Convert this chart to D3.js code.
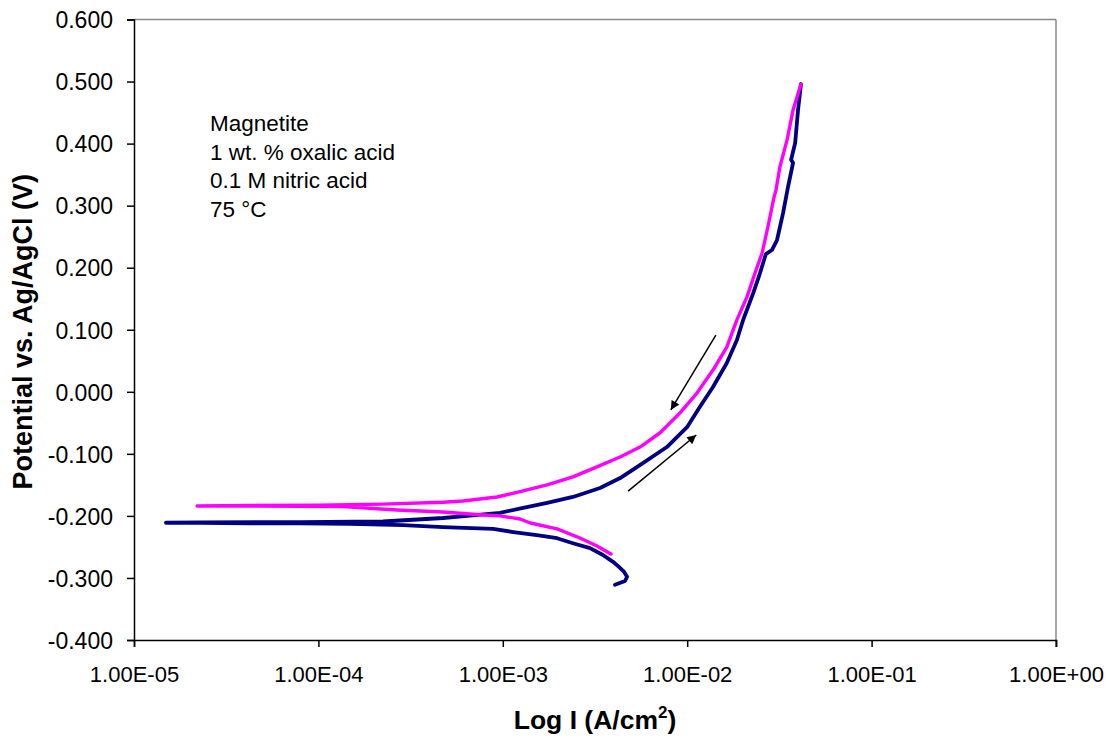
<!DOCTYPE html>
<html>
<head>
<meta charset="utf-8">
<script src="https://cdn.jsdelivr.net/npm/d3@7"></script>
<style>
  html, body { margin: 0; padding: 0; background: #fff; }
  svg { display: block; font-family: "Liberation Sans", Arial, sans-serif; }
</style>
</head>
<body>
<svg id="chart" width="1113" height="738"></svg>
<script>
// ---- Data (current density in A/cm^2, potential in V vs Ag/AgCl) ----
// Forward scan (navy): from cathodic end to corrosion potential, then anodic branch
const forwardCurrent = [
  4.06e-3, 4.60e-3, 4.72e-3, 4.54e-3, 4.22e-3, 3.96e-3, 3.49e-3, 2.97e-3, 2.40e-3, 1.97e-3,
  1.53e-3, 1.14e-3, 8.85e-4, 4.74e-4, 2.88e-4, 1.48e-4, 7.94e-5, 4.26e-5, 2.28e-5, 1.49e-5,
  2.28e-5, 7.94e-5, 2.24e-4, 4.74e-4, 6.40e-4, 9.66e-4, 1.29e-3, 1.74e-3, 2.40e-3, 3.37e-3,
  4.33e-3, 5.75e-3, 7.76e-3, 9.98e-3, 1.17e-2, 1.38e-2, 1.64e-2, 1.86e-2, 2.01e-2, 2.28e-2,
  2.48e-2, 2.67e-2, 2.88e-2, 3.07e-2, 3.31e-2, 3.52e-2, 3.75e-2, 3.66e-2, 3.85e-2, 3.99e-2,
  4.14e-2
];
const forwardPotential = [
  -0.311, -0.305, -0.298, -0.290, -0.281, -0.274, -0.263, -0.252, -0.244, -0.236,
  -0.231, -0.226, -0.221, -0.218, -0.215, -0.213, -0.212, -0.212, -0.211, -0.211,
  -0.2105, -0.210, -0.209, -0.2034, -0.200, -0.195, -0.187, -0.179, -0.1695, -0.155,
  -0.139, -0.115, -0.089, -0.057, -0.0245, 0.0077, 0.0464, 0.0835, 0.1157, 0.159,
  0.191, 0.222, 0.2285, 0.2446, 0.288, 0.330, 0.369, 0.374, 0.401, 0.454,
  0.496
];
// Reverse scan (magenta): from anodic vertex back down
const reverseCurrent = [
  4.14e-2, 3.75e-2, 3.48e-2, 3.18e-2, 3.03e-2, 2.96e-2, 2.74e-2, 2.55e-2, 2.33e-2, 2.11e-2,
  1.86e-2, 1.64e-2, 1.38e-2, 1.13e-2, 9.14e-3, 7.13e-3, 5.55e-3, 4.33e-3, 3.24e-3, 2.40e-3,
  1.74e-3, 1.24e-3, 9.31e-4, 6.08e-4, 4.74e-4, 2.24e-4, 9.82e-5, 4.26e-5, 2.20e-5,
  4.26e-5, 1.36e-4, 2.67e-4, 4.74e-4, 7.82e-4, 9.66e-4, 1.24e-3, 1.41e-3, 1.97e-3, 2.62e-3,
  3.24e-3, 3.86e-3
];
const reversePotential = [
  0.496, 0.454, 0.406, 0.362, 0.325, 0.314, 0.266, 0.224, 0.191, 0.153,
  0.116, 0.072, 0.035, -0.002, -0.034, -0.066, -0.089, -0.105, -0.121, -0.137,
  -0.150, -0.161, -0.1695, -0.176, -0.178, -0.181, -0.1827, -0.183, -0.184,
  -0.184, -0.185, -0.1905, -0.1937, -0.1985, -0.200, -0.205, -0.2114, -0.221, -0.2356,
  -0.2485, -0.2614
];
// Scan-direction arrows: [fromCurrent, fromPotential, toCurrent, toPotential]
const arrowDown = [1.43e-2, 0.0915, 8.15e-3, -0.0293];
const arrowUp = [4.78e-3, -0.160, 1.12e-2, -0.0696];

const xTickValues = [1e-5, 1e-4, 1e-3, 1e-2, 1e-1, 1e0];
const xTickLabels = ["1.00E-05", "1.00E-04", "1.00E-03", "1.00E-02", "1.00E-01", "1.00E+00"];
const yTickValues = [-0.4, -0.3, -0.2, -0.1, 0.0, 0.1, 0.2, 0.3, 0.4, 0.5, 0.6];
const annotationLines = ["Magnetite", "1 wt. % oxalic acid", "0.1 M nitric acid", "75 \u00B0C"];

// ---- Layout ----
const W = 1113, H = 738;
const plot = { left: 134, top: 19.5, right: 1056, bottom: 640 };
const FONT = "Liberation Sans, Arial, sans-serif";

const svg = d3.select("#chart");
svg.append("rect").attr("width", W).attr("height", H).attr("fill", "#fff");

const x = d3.scaleLog().domain([1e-5, 1]).range([plot.left, plot.right]);
const y = d3.scaleLinear().domain([-0.4, 0.6]).range([plot.bottom, plot.top]);

// Plot frame: gray top and right
svg.append("line").attr("x1", plot.left).attr("x2", plot.right)
  .attr("y1", plot.top).attr("y2", plot.top).attr("stroke", "#888").attr("stroke-width", 1.5);
svg.append("line").attr("x1", plot.right).attr("x2", plot.right)
  .attr("y1", plot.top).attr("y2", plot.bottom + 7).attr("stroke", "#888").attr("stroke-width", 1.5);

// Axes
const yAxis = d3.axisLeft(y).tickValues(yTickValues).tickSize(7).tickPadding(14)
  .tickFormat(d => d3.format(".3f")(d).replace("\u2212", "-"));
const gy = svg.append("g").attr("transform", `translate(${plot.left},0)`).call(yAxis);
gy.select(".domain").attr("stroke", "#000").attr("stroke-width", 1.5);
gy.selectAll(".tick line").attr("stroke", "#000").attr("stroke-width", 1.5);
gy.selectAll(".tick text").attr("font-size", "23px").attr("fill", "#000")
  .attr("font-family", FONT).attr("dy", "0.36em");

const xAxis = d3.axisBottom(x).tickValues(xTickValues).tickSize(7).tickPadding(19)
  .tickFormat((d, i) => xTickLabels[i]);
const gx = svg.append("g").attr("transform", `translate(0,${plot.bottom})`).call(xAxis);
gx.select(".domain").attr("stroke", "#000").attr("stroke-width", 1.5);
gx.selectAll(".tick line").attr("stroke", "#000").attr("stroke-width", 1.5);
gx.selectAll(".tick text").attr("font-size", "22px").attr("fill", "#000")
  .attr("font-family", FONT);

// Axis titles
svg.append("text")
  .attr("transform", `translate(32,${(plot.top + plot.bottom) / 2 + 2}) rotate(-90)`)
  .attr("text-anchor", "middle").attr("font-weight", "bold").attr("font-size", "27px")
  .text("Potential vs. Ag/AgCl (V)");

const xt = svg.append("text")
  .attr("x", (plot.left + plot.right) / 2).attr("y", 729)
  .attr("text-anchor", "middle").attr("font-weight", "bold").attr("font-size", "26.5px");
xt.append("tspan").text("Log I (A/cm");
xt.append("tspan").attr("font-size", "17px").attr("dy", "-11").text("2");
xt.append("tspan").attr("dy", "11").text(")");

// Annotation
const ann = svg.append("text").attr("x", 210).attr("y", 131).attr("font-size", "22.5px").attr("fill", "#000");
annotationLines.forEach((t, i) => {
  ann.append("tspan").attr("x", 210).attr("dy", i === 0 ? 0 : 28.5).text(t);
});

// Curves
const line = d3.line().x(d => x(d[0])).y(d => y(d[1]));
const fwd = forwardCurrent.map((c, i) => [c, forwardPotential[i]]);
const rev = reverseCurrent.map((c, i) => [c, reversePotential[i]]);

svg.append("path").datum(fwd).attr("d", line)
  .attr("fill", "none").attr("stroke", "#000080").attr("stroke-width", 3.8)
  .attr("stroke-linejoin", "round").attr("stroke-linecap", "round");
svg.append("path").datum(rev).attr("d", line)
  .attr("fill", "none").attr("stroke", "#FF00FF").attr("stroke-width", 3.4)
  .attr("stroke-linejoin", "round").attr("stroke-linecap", "round");

// Arrows
const defs = svg.append("defs");
defs.append("marker").attr("id", "arrowhead").attr("viewBox", "0 0 10 10")
  .attr("refX", 10).attr("refY", 5).attr("markerWidth", 12).attr("markerHeight", 9)
  .attr("markerUnits", "userSpaceOnUse").attr("orient", "auto")
  .append("path").attr("d", "M0,0 L10,5 L0,10 Z").attr("fill", "#000");

[arrowDown, arrowUp].forEach(a => {
  svg.append("line")
    .attr("x1", x(a[0])).attr("y1", y(a[1]))
    .attr("x2", x(a[2])).attr("y2", y(a[3]))
    .attr("stroke", "#000").attr("stroke-width", 1.5)
    .attr("marker-end", "url(#arrowhead)");
});
</script>
</body>
</html>
